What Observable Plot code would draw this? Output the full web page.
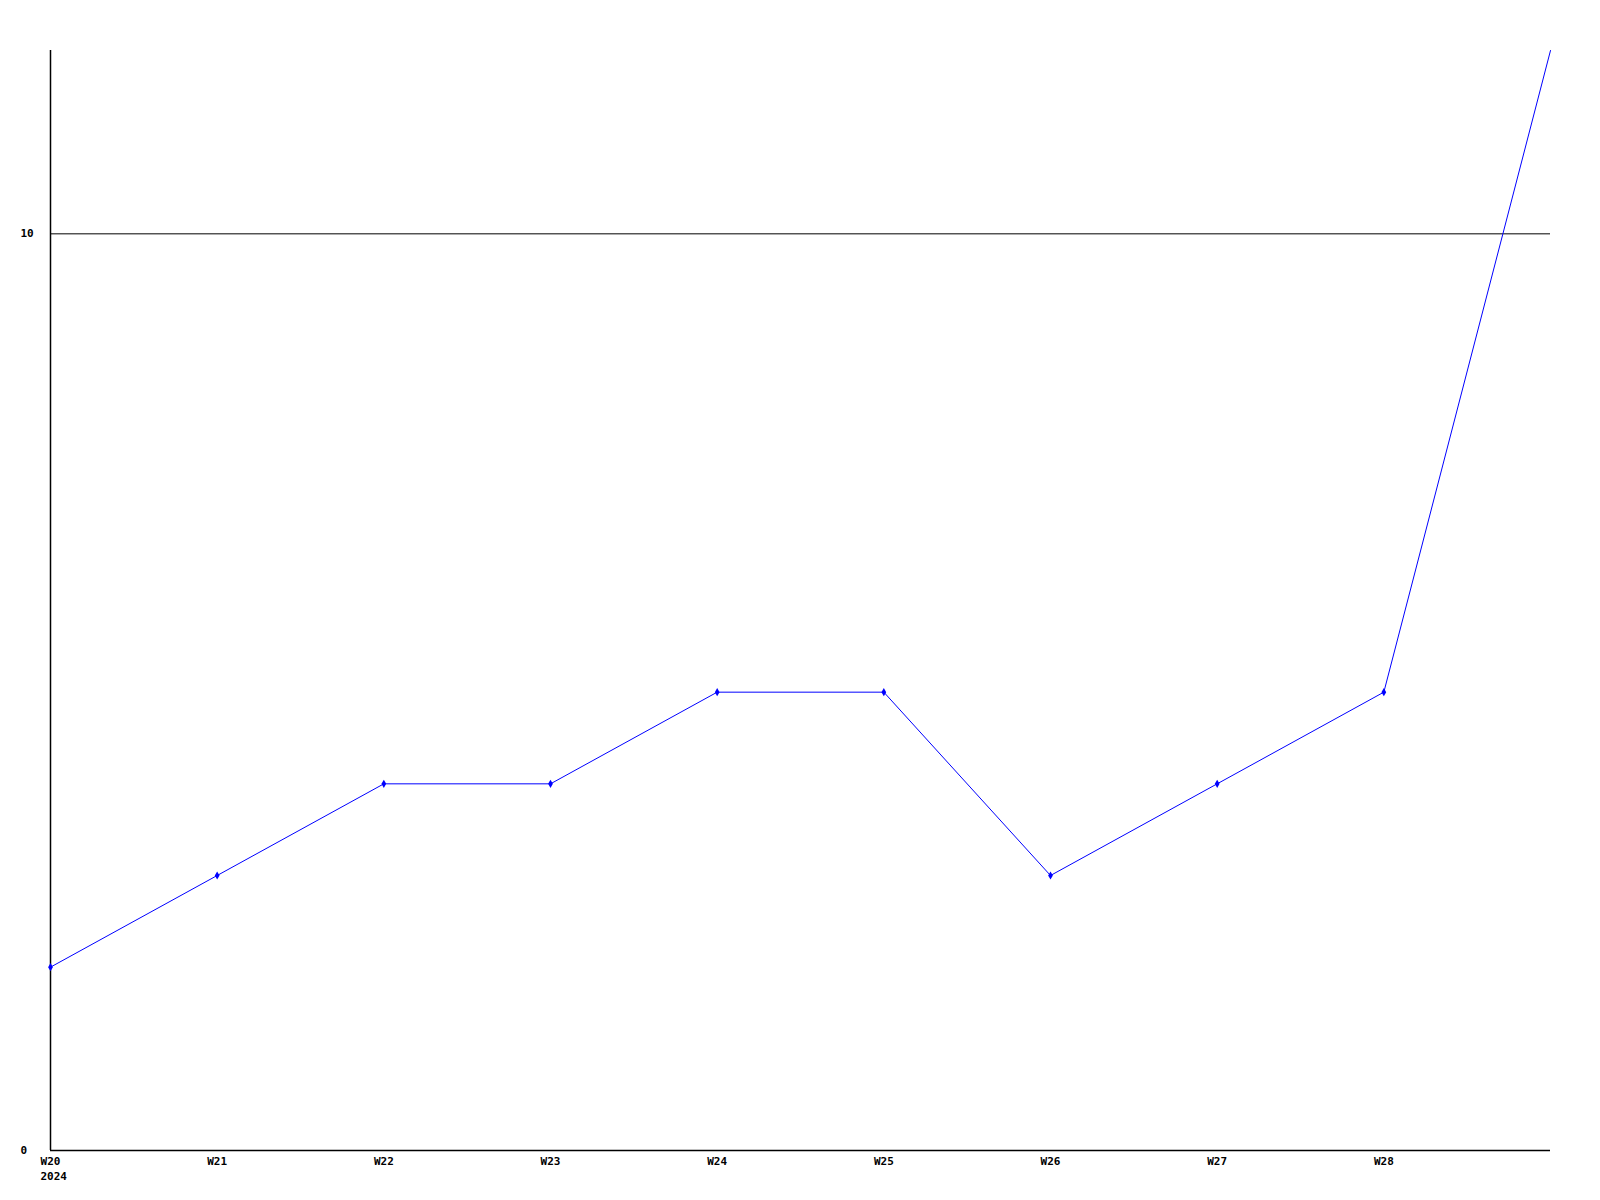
<!DOCTYPE html>
<html>
<head>
<meta charset="utf-8">
<script src="https://cdn.jsdelivr.net/npm/d3@7"></script>
<script src="https://cdn.jsdelivr.net/npm/@observablehq/plot@0.6"></script>
<style>
  html, body { margin: 0; padding: 0; background: #fff; }
  #chart svg { display: block; }
</style>
</head>
<body>
<div id="chart"></div>
<script>
const weeks = [20, 21, 22, 23, 24, 25, 26, 27, 28, 29];
const values = [2, 3, 4, 4, 5, 5, 3, 4, 5, 12];
const xTickWeeks = [20, 21, 22, 23, 24, 25, 26, 27, 28];
const yTicks = [0, 10];
const year = "2024";

const data = weeks.map((w, i) => ({week: w, value: values[i]}));
const font = "'DejaVu Sans Mono', monospace";

const chart = Plot.plot({
  width: 1600,
  height: 1200,
  marginLeft: 50,
  marginRight: 50,
  marginTop: 50,
  marginBottom: 50,
  style: {fontFamily: font, fontSize: "11px", fontWeight: "bold", background: "#fff", color: "#000"},
  x: {domain: [20, 29], axis: null},
  y: {domain: [0, 12], axis: null},
  marks: [
    Plot.ruleY(yTicks.filter(d => d !== 0), {stroke: "#000", strokeWidth: 1}),
    Plot.ruleX([20], {y1: 0, y2: 12, stroke: "#000", strokeWidth: 1.5}),
    Plot.ruleY([0], {stroke: "#000", strokeWidth: 1.5}),
    Plot.axisY(yTicks, {tickSize: 0, tickPadding: 30, textAnchor: "start", fontWeight: "bold", fontSize: 11, fill: "#000", label: null,
      tickFormat: d => String(d)}),
    Plot.axisX(xTickWeeks, {tickSize: 0, tickPadding: 7, fontWeight: "bold", fontSize: 11, fill: "#000", label: null,
      tickFormat: d => `W${d}`, textAnchor: "middle", lineAnchor: "top"}),
    Plot.text([year], {x: () => xTickWeeks[0], y: () => 0, text: d => d, dx: -10, dy: 22, textAnchor: "start", lineAnchor: "top",
      fontWeight: "bold", fontSize: 11, fill: "#000", clip: false}),
    Plot.line(data, {x: "week", y: "value", stroke: "#0000ff", strokeWidth: 1}),
    Plot.dot(data.filter(d => d.week < 29), {x: "week", y: "value", r: 2.5, fill: "#0000ff", stroke: "none", symbol: "diamond"})
  ]
});
document.getElementById("chart").appendChild(chart);
</script>
</body>
</html>
